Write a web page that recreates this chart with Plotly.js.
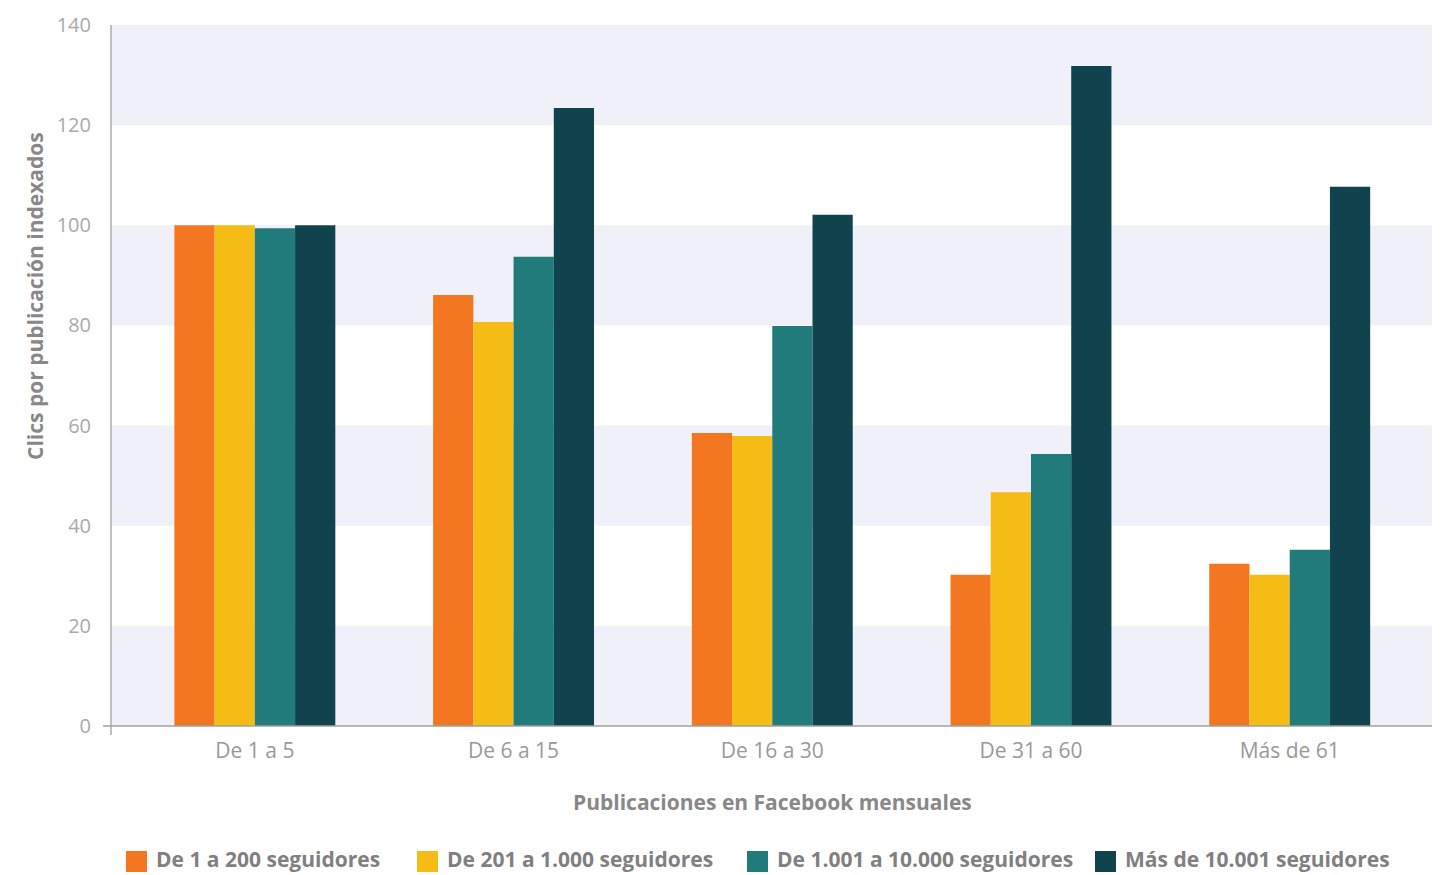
<!DOCTYPE html>
<html>
<head>
<meta charset="utf-8">
<script src="https://cdn.plot.ly/plotly-3.0.1.min.js"></script>
<style>html,body{margin:0;padding:0;background:#fff;}#chart{width:1442px;height:875px;}</style>
</head>
<body>
<div id="chart"></div>
<script>
var categories = ["De 1 a 5", "De 6 a 15", "De 16 a 30", "De 31 a 60", "Más de 61"];
var seriesNames = ["De 1 a 200 seguidores", "De 201 a 1.000 seguidores", "De 1.001 a 10.000 seguidores", "Más de 10.001 seguidores"];
var s1 = [100, 86.1, 58.5, 30.2, 32.4];
var s2 = [100, 80.7, 57.9, 46.7, 30.2];
var s3 = [99.4, 93.7, 79.9, 54.3, 35.2];
var s4 = [100, 123.4, 102.1, 131.8, 107.7];
var colors = ["#F37721", "#F5BC15", "#217B7A", "#10434E"];
var yTicks = [0, 20, 40, 60, 80, 100, 120, 140];

var FONT = "'Open Sans', sans-serif";
var allSeries = [s1, s2, s3, s4];
var traces = allSeries.map(function (vals, i) {
  return {
    type: "bar",
    x: categories,
    y: vals,
    name: seriesNames[i],
    marker: {color: colors[i], line: {width: 0}},
    hoverinfo: "x+y+name"
  };
});

// plot area in pixels: x 111..1432, y 25..726
var PX0 = 111, PW = 1321, PY0 = 726, PH = 701;
function px(x) { return (x - PX0) / PW; }
function py(y) { return (PY0 - y) / PH; }

var shapes = [];
for (var b = 0; b < 140; b += 40) {
  shapes.push({type: "rect", xref: "paper", yref: "y", x0: 0, x1: 1, y0: b, y1: b + 20,
    fillcolor: "#F0F0F8", line: {width: 0}, layer: "below"});
}
shapes.push({type: "line", xref: "paper", yref: "paper", x0: 0, x1: 0, y0: 0, y1: 1, line: {color: "#A0A0A0", width: 1.3}});
shapes.push({type: "line", xref: "paper", yref: "paper", x0: px(103), x1: 1, y0: 0, y1: 0, line: {color: "#A0A0A0", width: 1.3}});
shapes.push({type: "line", xref: "paper", yref: "paper", x0: 0, x1: 0, y0: 0, y1: py(735), line: {color: "#A0A0A0", width: 1.3}});

// custom legend (large square swatches)
var legendSquareX = [126, 417, 747, 1095];
var annotations = [];
seriesNames.forEach(function (name, i) {
  var x0 = legendSquareX[i];
  shapes.push({type: "rect", xref: "paper", yref: "paper", x0: px(x0), x1: px(x0 + 21),
    y0: py(872), y1: py(851), fillcolor: colors[i], line: {width: 0}});
  annotations.push({text: name, xref: "paper", yref: "paper", x: px(x0 + 29), y: py(859),
    xanchor: "left", yanchor: "middle", showarrow: false, borderpad: 0,
    font: {family: FONT, size: 21, color: "#808080", weight: 700}});
});

annotations.push({
  text: "Clics por publicación indexados", xref: "paper", yref: "paper",
  x: px(35), y: py(296), xanchor: "center", yanchor: "middle", textangle: -90, showarrow: false,
  font: {family: FONT, size: 21, color: "#888888", weight: 700}
});
annotations.push({
  text: "Publicaciones en Facebook mensuales", xref: "paper", yref: "paper",
  x: px(772), y: py(802), xanchor: "center", yanchor: "middle", showarrow: false,
  font: {family: FONT, size: 21, color: "#888888", weight: 700}
});

var layout = {
  width: 1442, height: 875,
  margin: {l: 111, r: 10, t: 25, b: 149, autoexpand: false},
  paper_bgcolor: "#ffffff",
  plot_bgcolor: "#ffffff",
  font: {family: FONT, color: "#999999"},
  barmode: "group",
  bargap: 0.378,
  bargroupgap: 0,
  showlegend: false,
  xaxis: {
    range: [-0.556, 4.55],
    showgrid: false, zeroline: false, showline: false,
    ticks: "", tickfont: {size: 21, color: "#999999"},
    ticklabelstandoff: 10
  },
  yaxis: {
    range: [0, 140],
    tickvals: yTicks,
    showgrid: false, zeroline: false, showline: false,
    ticks: "", tickfont: {size: 20, color: "#AAAAAA"},
    ticklabelstandoff: 19
  },
  annotations: annotations,
  shapes: shapes
};

Plotly.newPlot("chart", traces, layout, {displayModeBar: false});
</script>
</body>
</html>
